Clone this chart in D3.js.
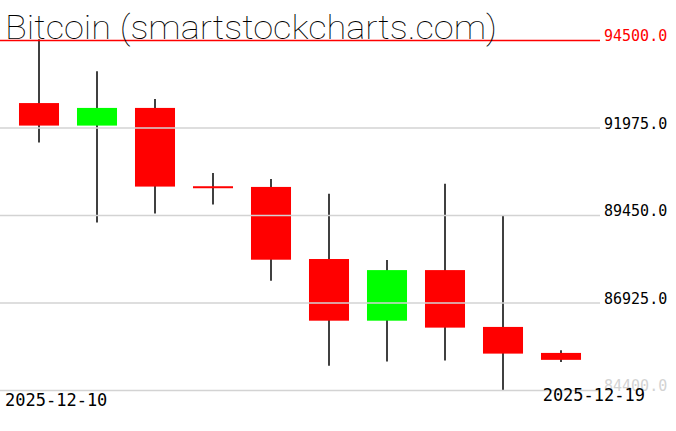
<!DOCTYPE html>
<html>
<head>
<meta charset="utf-8">
<script src="https://cdn.jsdelivr.net/npm/d3@7"></script>
<style>
  body { margin: 0; background: #fff; }
  svg { display: block; }
</style>
</head>
<body>
<svg id="chart" width="676" height="431"></svg>
<script>
// daily candles
var dates  = ["2025-12-10","2025-12-11","2025-12-12","2025-12-13","2025-12-14",
              "2025-12-15","2025-12-16","2025-12-17","2025-12-18","2025-12-19"];
var opens  = [92680, 92030, 92540, 90280, 90260, 88180, 86400, 87860, 86220, 85470];
var highs  = [94520, 93600, 92800, 90660, 90490, 90060, 88150, 90350, 89430, 85550];
var lows   = [91540, 89230, 89490, 89750, 87550, 85100, 85220, 85250, 84390, 85210];
var closes = [92030, 92540, 90270, 90240, 88160, 86400, 87860, 86200, 85450, 85270];
var tickValues = [84400, 86925, 89450, 91975, 94500];
var title = "Bitcoin (smartstockcharts.com)";

var svg = d3.select("#chart");
var plotRight = 600;

var x = d3.scaleBand()
  .domain(dates)
  .range([10, 590])
  .paddingInner(0.31)
  .paddingOuter(0.155);

var y = d3.scaleLinear()
  .domain([84400, 94500])
  .range([390, 40]);

var candles = dates.map(function(d, i) {
  return {date: d, open: opens[i], high: highs[i], low: lows[i], close: closes[i]};
});

// wicks
svg.append("g").selectAll("line")
  .data(candles)
  .join("line")
  .attr("x1", function(d) { return x(d.date) + x.bandwidth() / 2; })
  .attr("x2", function(d) { return x(d.date) + x.bandwidth() / 2; })
  .attr("y1", function(d) { return y(d.high); })
  .attr("y2", function(d) { return y(d.low); })
  .attr("stroke", "black")
  .attr("stroke-width", 1.5);

// bodies
svg.append("g").selectAll("rect")
  .data(candles)
  .join("rect")
  .attr("x", function(d) { return x(d.date); })
  .attr("width", x.bandwidth())
  .attr("y", function(d) { return y(Math.max(d.open, d.close)); })
  .attr("height", function(d) { return Math.max(2, Math.abs(y(d.open) - y(d.close))); })
  .attr("fill", function(d) { return d.close >= d.open ? "#00ff00" : "#ff0000"; });

// grid + price labels on the right
var yAxis = d3.axisRight(y)
  .tickValues(tickValues)
  .tickSize(plotRight)
  .tickPadding(4)
  .tickFormat(d3.format(".1f"));

var gAxis = svg.append("g").call(yAxis);
gAxis.select(".domain").remove();
gAxis.selectAll(".tick line")
  .attr("stroke", function(d) { return d === 94500 ? "#ff0000" : "#d3d3d3"; })
  .attr("stroke-width", 1.5);
gAxis.selectAll(".tick text")
  .attr("dy", "0.05em")
  .style("font-family", "'DejaVu Sans Mono', monospace")
  .style("font-size", "15px")
  .attr("fill", function(d) {
    if (d === 94500) return "#ff0000";
    if (d === 84400) return "#d3d3d3";
    return "black";
  });

// title
svg.append("text")
  .attr("x", 5)
  .attr("y", 39)
  .attr("textLength", 492)
  .attr("lengthAdjust", "spacingAndGlyphs")
  .style("font-family", "Roboto, sans-serif")
  .style("font-weight", 100)
  .style("font-size", "33px")
  .attr("fill", "black")
  .text(title);

// first and last date
svg.append("text")
  .attr("x", 5)
  .attr("y", 406)
  .style("font-family", "'DejaVu Sans Mono', monospace")
  .style("font-size", "17px")
  .text(dates[0]);

svg.append("text")
  .attr("x", 645)
  .attr("y", 401)
  .attr("text-anchor", "end")
  .style("font-family", "'DejaVu Sans Mono', monospace")
  .style("font-size", "17px")
  .text(dates[dates.length - 1]);
</script>
</body>
</html>
